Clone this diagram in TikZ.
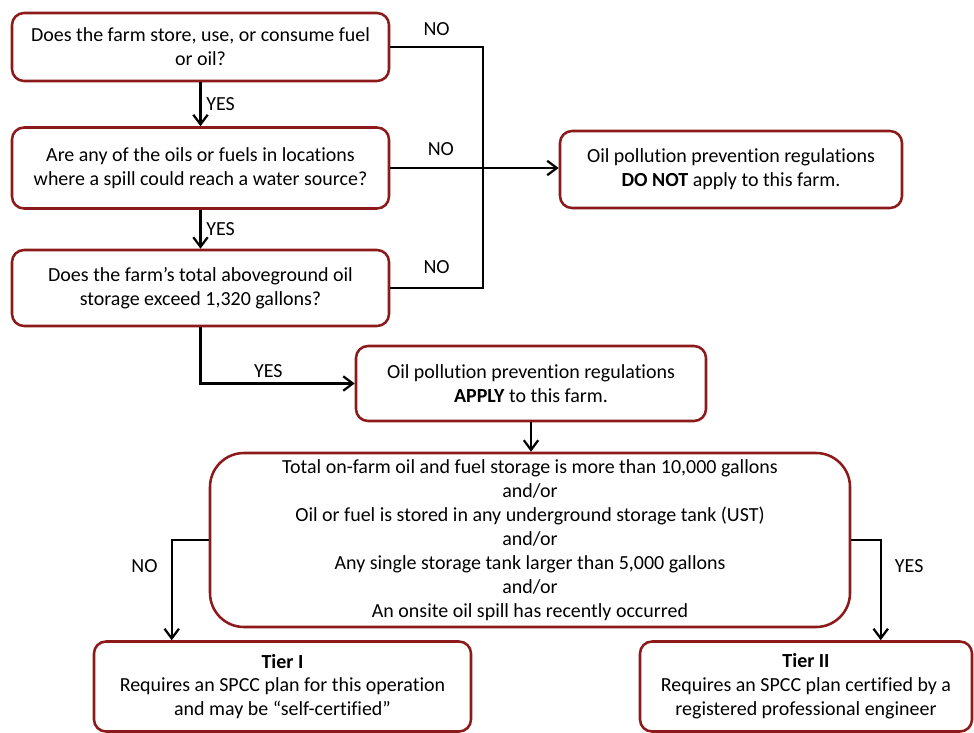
\documentclass[tikz,border=0pt]{standalone}
\usepackage{fontspec}
\setmainfont{Carlito}[Ligatures=NoCommon]
\usepackage{xcolor}
\usepackage{tikz}
\usetikzlibrary{calc}
\usetikzlibrary{arrows.meta}
\usetikzlibrary{positioning}

\definecolor{boxred}{RGB}{140,26,26}

\begin{document}
\begin{tikzpicture}[x=0.025cm, y=-0.025cm, thick,
		box/.style = {draw=boxred, line width=1.8pt, fill=white, rounded corners=0.3cm, align=center, inner sep=0pt},
		boxsize/.style 2 args = {minimum width=#1*0.025cm, minimum height=#2*0.025cm},
		arr/.style = {line width=1.6pt, -{Straight Barb[length=2.4mm, width=3.6mm, line width=1.6pt]}},
		lnk/.style = {line width=1.6pt},
		every node/.style = {font=\fontsize{14.2}{17}\selectfont}] 
		\useasboundingbox (0,0) rectangle (974,732);
		
		\node[box, boxsize={377}{68}] (q1) at (200.5,47) {Does the farm store, use, or consume fuel\\or oil?}; 
		\node[box, boxsize={377}{81}] (q2) at (200.5,168) {Are any of the oils or fuels in locations\\where a spill could reach a water source?};
		\node[box, boxsize={377}{76}] (q3) at (200.5,288) {Does the farm’s total aboveground oil\\storage exceed 1,320 gallons?};
		\node[box, boxsize={342}{77}] (donot) at (731,169.5) {Oil pollution prevention regulations\\\textbf{DO NOT} apply to this farm.};
		\node[box, boxsize={350}{75}] (apply) at (531,383.5) {Oil pollution prevention regulations\\\textbf{APPLY} to this farm.};
		\node[box, boxsize={640}{174}, rounded corners=0.85cm] (crit) at (530,540) {Total on-farm oil and fuel storage is more than 10,000 gallons\\and/or\\Oil or fuel is stored in any underground storage tank (UST)\\and/or\\Any single storage tank larger than 5,000 gallons\\and/or\\An onsite oil spill has recently occurred};
		\node[box, boxsize={377}{90}] (tier1) at (282.5,686.5) {\textbf{Tier I}\\Requires an SPCC plan for this operation\\and may be “self-certified”};
		\node[box, boxsize={332}{90}] (tier2) at (806,686.5) {\textbf{Tier II}\\Requires an SPCC plan certified by a\\registered professional engineer};
		
		\coordinate (bus) at (483,47);
		\coordinate (noend) at ($(tier1.north west)+(79,0)$);
		\coordinate (yesend) at ($(tier2.north west)+(242,0)$);
		
		\draw[arr] (q1) -- node[right] {YES} (q2);
		\draw[arr] (q2) -- node[right] {YES} (q3);
		\draw[lnk] (q1.east) -- node[above, yshift=4pt] {NO} (q1.east -| bus) -- (q3.east -| bus) -- node[above, yshift=6pt] {NO} (q3.east);
		\draw[arr] (q2.east) -- node[pos=0.3, above, yshift=5pt] {NO} (donot.west |- q2.east);
		\draw[arr] (q3.south) |- node[pos=0.72, above] {YES} (apply.west);
		\draw[arr] (apply.south) -- (crit.north -| apply.south);
		\draw[arr] (crit.west) -| node[pos=0.63, left, xshift=-6pt] {NO} (noend);
		\draw[arr] (crit.east) -| node[pos=0.63, right, xshift=6pt] {YES} (yesend);
	\end{tikzpicture}
\end{document}
